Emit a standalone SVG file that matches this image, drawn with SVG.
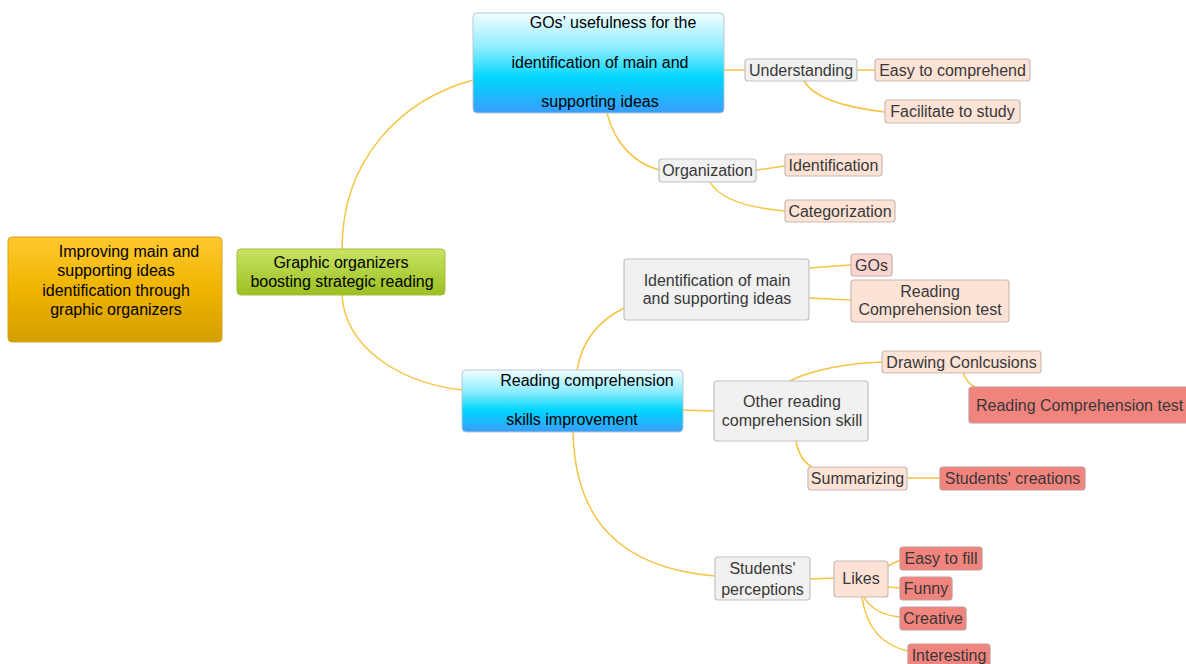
<svg xmlns="http://www.w3.org/2000/svg" width="1186" height="664" viewBox="0 0 1186 664">
<defs>
<linearGradient id="gOrange" x1="0" y1="0" x2="0" y2="1"><stop offset="0" stop-color="#fec92f"/><stop offset="0.5" stop-color="#efb400"/><stop offset="1" stop-color="#d39e00"/></linearGradient>
<linearGradient id="gGreen" x1="0" y1="0" x2="0" y2="1"><stop offset="0" stop-color="#c8e362"/><stop offset="1" stop-color="#9bbf22"/></linearGradient>
<linearGradient id="gBlue" x1="0" y1="0" x2="0" y2="1"><stop offset="0" stop-color="#f2fdff"/><stop offset="0.35" stop-color="#8cecff"/><stop offset="0.65" stop-color="#00d6fc"/><stop offset="1" stop-color="#3a9dfd"/></linearGradient>
</defs>
<style>
text{font-family:"Liberation Sans",Arial,sans-serif;font-size:16px;text-anchor:middle;}
.dk{fill:#000;}
.sm{fill:#383838;}
.grey{fill:#f1f1f1;stroke:#c2c2c2;stroke-width:1.2;}
.peach{fill:#fde3d6;stroke:#c9b9b1;stroke-width:1.2;}
.pink{fill:#fbd5d0;stroke:#c9b3b0;stroke-width:1.2;}
.red{fill:#f2847e;stroke:#c29a98;stroke-width:1.2;}
.conn path{fill:none;stroke:#f6c343;stroke-width:1.5;}
</style>
<rect width="1186" height="664" fill="#fff"/>
<g id="connectors" class="conn">
<path d="M342 249 C342 160 400 100 473 80"/>
<path d="M342 295 C345 345 395 382 462 390"/>
<path d="M724 70 L745 70"/>
<path d="M857 70 L875 70"/>
<path d="M804 81 C815 100 850 108 885 112"/>
<path d="M607 113 C615 145 635 163 659 170"/>
<path d="M756 170 L785 166"/>
<path d="M710 182 C720 200 750 208 785 211"/>
<path d="M577 370 C582 340 600 320 624 308"/>
<path d="M809 268 L851 265"/>
<path d="M809 298 L851 300"/>
<path d="M683 410 L714 411"/>
<path d="M790 381 C810 370 850 363 882 362"/>
<path d="M963 373 C966 380 970 385 975 387"/>
<path d="M796 441 C798 452 803 462 812 467"/>
<path d="M907 478 L940 478"/>
<path d="M573 432 C575 520 620 568 715 576"/>
<path d="M810 579 L834 578"/>
<path d="M888 566 L900 560"/>
<path d="M888 587 L900 588"/>
<path d="M864 597 C870 608 880 615 900 617"/>
<path d="M862 597 C866 625 880 645 908 651"/>
</g>
<g id="root"><rect x="8" y="237" width="214" height="105" rx="4" fill="url(#gOrange)" stroke="#d8a41c"/>
<text class="dk" x="129" y="257">Improving main and</text><text class="dk" x="116" y="276">supporting ideas</text><text class="dk" x="116" y="296">identification through</text><text class="dk" x="116" y="315">graphic organizers</text></g>
<g id="graphic-organizers"><rect x="237" y="249" width="208" height="46" rx="4" fill="url(#gGreen)" stroke="#a3be3c"/>
<text class="dk" x="341" y="268">Graphic organizers</text><text class="dk" x="342" y="287">boosting strategic reading</text></g>
<g id="gos-usefulness"><rect x="473" y="13" width="251" height="100" rx="4" fill="url(#gBlue)" stroke="#b8c7d3"/>
<text class="dk" x="613" y="28">GOs’ usefulness for the</text><text class="dk" x="600" y="68">identification of main and</text><text class="dk" x="600" y="107">supporting ideas</text></g>
<g id="understanding"><rect class="grey" x="745" y="59" width="112" height="22" rx="3"/><text class="sm" x="801" y="75.5">Understanding</text></g>
<g id="easy-comprehend"><rect class="peach" x="875" y="59" width="155" height="22" rx="3"/><text class="sm" x="952.5" y="75.5">Easy to comprehend</text></g>
<g id="facilitate"><rect class="peach" x="885" y="100" width="135" height="23" rx="3"/><text class="sm" x="952.5" y="117">Facilitate to study</text></g>
<g id="organization"><rect class="grey" x="659" y="159" width="97" height="23" rx="3"/><text class="sm" x="707.5" y="176">Organization</text></g>
<g id="identification"><rect class="peach" x="785" y="154" width="97" height="22" rx="3"/><text class="sm" x="833.5" y="170.5">Identification</text></g>
<g id="categorization"><rect class="peach" x="785" y="200" width="110" height="22" rx="3"/><text class="sm" x="840" y="216.5">Categorization</text></g>
<g id="reading-skills"><rect x="462" y="370" width="221" height="62" rx="4" fill="url(#gBlue)" stroke="#b8c7d3"/>
<text class="dk" x="587" y="386">Reading comprehension</text><text class="dk" x="572" y="425">skills improvement</text></g>
<g id="ident-main"><rect class="grey" x="624" y="259" width="185" height="61" rx="3"/><text class="sm" x="717" y="285.5">Identification of main</text><text class="sm" x="717" y="303.5">and supporting ideas</text></g>
<g id="gos"><rect class="pink" x="851" y="254" width="41" height="22" rx="3"/><text class="sm" x="871.5" y="270.5">GOs</text></g>
<g id="rct1"><rect class="peach" x="851" y="280" width="158" height="42" rx="3"/><text class="sm" x="930" y="296.5">Reading</text><text class="sm" x="930" y="314.5">Comprehension test</text></g>
<g id="other-skill"><rect class="grey" x="714" y="381" width="154" height="60" rx="3"/><text class="sm" x="792" y="406.5">Other reading</text><text class="sm" x="792" y="425.5">comprehension skill</text></g>
<g id="drawing"><rect class="peach" x="882" y="351" width="159" height="22" rx="3"/><text class="sm" x="961.5" y="367.5">Drawing Conlcusions</text></g>
<g id="rct2"><rect class="red" x="969" y="387" width="230" height="36" rx="3"/><text class="sm" x="976" y="411" style="text-anchor:start">Reading Comprehension test</text></g>
<g id="summarizing"><rect class="peach" x="808" y="467" width="99" height="23" rx="3"/><text class="sm" x="857.5" y="484">Summarizing</text></g>
<g id="creations"><rect class="red" x="940" y="467" width="145" height="23" rx="3"/><text class="sm" x="1012.5" y="484">Students' creations</text></g>
<g id="perceptions"><rect class="grey" x="715" y="557" width="95" height="43" rx="3"/><text class="sm" x="762.5" y="574">Students'</text><text class="sm" x="762.5" y="595">perceptions</text></g>
<g id="likes"><rect class="peach" x="834" y="561" width="54" height="36" rx="3"/><text class="sm" x="861" y="584">Likes</text></g>
<g id="easy-fill"><rect class="red" x="900" y="547" width="82" height="23" rx="3"/><text class="sm" x="941" y="564">Easy to fill</text></g>
<g id="funny"><rect class="red" x="900" y="577" width="52" height="23" rx="3"/><text class="sm" x="926" y="594">Funny</text></g>
<g id="creative"><rect class="red" x="900" y="607" width="66" height="23" rx="3"/><text class="sm" x="933" y="624">Creative</text></g>
<g id="interesting"><rect class="red" x="908" y="644" width="82" height="28" rx="3"/><text class="sm" x="949" y="661">Interesting</text></g>
</svg>
